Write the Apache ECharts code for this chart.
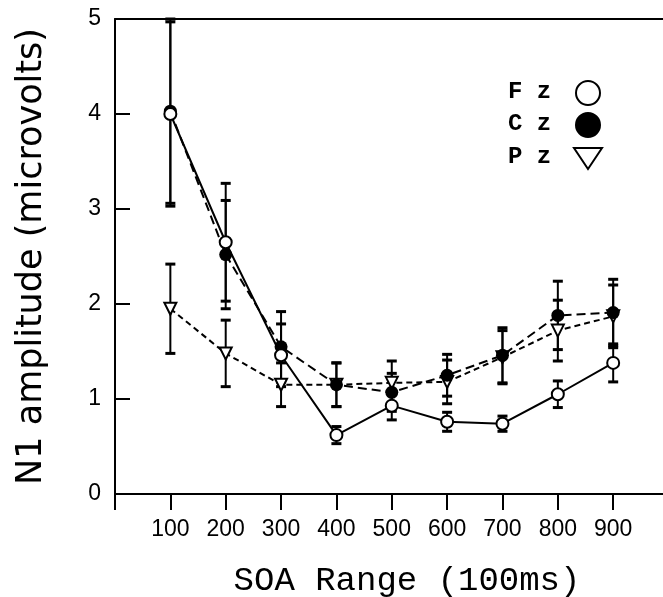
<!DOCTYPE html>
<html>
<head>
<meta charset="utf-8">
<script src="https://cdn.jsdelivr.net/npm/echarts@6/dist/echarts.min.js"></script>
<style>
  html, body { margin: 0; padding: 0; background: #fff; }
  #chart { width: 663px; height: 597px; }
</style>
</head>
<body>
<div id="chart"></div>
<script>
// SOA range (ms) and N1 amplitudes per electrode
const soa = [100, 200, 300, 400, 500, 600, 700, 800, 900];
const xTicks = [0, 100, 200, 300, 400, 500, 600, 700, 800, 900];
const yTicks = [0, 1, 2, 3, 4, 5];

const fz = [4.00, 2.65, 1.46, 0.62, 0.93, 0.76, 0.74, 1.05, 1.38];
const fzErr = [0.97, 0.62, 0.33, 0.09, 0.15, 0.10, 0.08, 0.14, 0.20];
const cz = [4.03, 2.52, 1.55, 1.15, 1.07, 1.25, 1.46, 1.88, 1.91];
const czErr = [0.97, 0.57, 0.37, 0.23, 0.20, 0.22, 0.29, 0.36, 0.35];
const pz = [1.95, 1.48, 1.15, 1.15, 1.17, 1.18, 1.44, 1.72, 1.87];
const pzErr = [0.47, 0.35, 0.23, 0.23, 0.23, 0.23, 0.28, 0.32, 0.33];

const chart = echarts.init(document.getElementById("chart"));

const pairs = (ys) => soa.map((x, i) => [x, ys[i]]);
const errData = (ys, es) => soa.map((x, i) => [x, ys[i] - es[i], ys[i] + es[i]]);

// error bar: vertical stem with short caps
const renderErr = (params, api) => {
  const lo = api.coord([api.value(0), api.value(1)]);
  const hi = api.coord([api.value(0), api.value(2)]);
  const w = 5;
  const st = { stroke: "#000", lineWidth: 2 };
  return {
    type: "group",
    children: [
      { type: "line", shape: { x1: lo[0], y1: lo[1], x2: hi[0], y2: hi[1] }, style: st },
      { type: "line", shape: { x1: lo[0] - w, y1: lo[1], x2: lo[0] + w, y2: lo[1] }, style: { stroke: "#000", lineWidth: 3 } },
      { type: "line", shape: { x1: hi[0] - w, y1: hi[1], x2: hi[0] + w, y2: hi[1] }, style: { stroke: "#000", lineWidth: 3 } }
    ]
  };
};

const errSeries = (name, ys, es) => ({
  name: name + " err",
  type: "custom",
  renderItem: renderErr,
  data: errData(ys, es),
  z: 1,
  silent: true
});

const tickFont = { fontFamily: "Liberation Sans", fontSize: 23, color: "#000" };

const option = {
  backgroundColor: "#fff",
  animation: false,
  grid: { left: 115, right: 0, top: 19, bottom: 103, containLabel: false, outerBoundsMode: "none" },
  xAxis: [
    {
      type: "value",
      min: 0,
      max: 990,
      interval: 100,
      name: "SOA Range (100ms)",
      nameLocation: "middle",
      nameGap: 70,
      nameTextStyle: {
        fontFamily: "Liberation Mono",
        fontSize: 34,
        color: "#000",
        padding: [0, 0, 0, 36]
      },
      axisLine: { lineStyle: { color: "#000", width: 2 } },
      axisTick: { show: true, inside: false, length: 16, customValues: xTicks, lineStyle: { color: "#000", width: 2 } },
      axisLabel: {
        customValues: soa,
        margin: 24,
        ...tickFont
      },
      splitLine: { show: false }
    },
    {
      type: "value",
      position: "top",
      min: 0,
      max: 990,
      axisLine: { show: true, lineStyle: { color: "#000", width: 2 } },
      axisTick: { show: false },
      axisLabel: { show: false },
      splitLine: { show: false }
    }
  ],
  yAxis: {
    type: "value",
    min: 0,
    max: 5,
    interval: 1,
    name: "N1 amplitude (microvolts)",
    nameLocation: "middle",
    nameGap: 66,
    nameTextStyle: { fontFamily: "DejaVu Sans", fontSize: 35, color: "#000" },
    axisLine: { show: true, lineStyle: { color: "#000", width: 2 } },
    axisTick: { show: true, inside: true, length: 15, customValues: yTicks, lineStyle: { color: "#000", width: 2 } },
    axisLabel: { margin: 14, ...tickFont },
    splitLine: { show: false }
  },
  series: [
    errSeries("Pz", pz, pzErr),
    errSeries("Cz", cz, czErr),
    errSeries("Fz", fz, fzErr),
    {
      name: "Pz",
      type: "line",
      data: pairs(pz),
      symbol: "emptyTriangle",
      symbolRotate: 180,
      symbolSize: 12,
      itemStyle: { color: "#000", borderWidth: 2 },
      lineStyle: { color: "#000", width: 2, type: [6, 4] },
      z: 3
    },
    {
      name: "Cz",
      type: "line",
      data: pairs(cz),
      symbol: "circle",
      symbolSize: 13,
      itemStyle: { color: "#000" },
      lineStyle: { color: "#000", width: 2, type: [9, 5] },
      z: 4
    },
    {
      name: "Fz",
      type: "line",
      data: pairs(fz),
      symbol: "emptyCircle",
      symbolSize: 12,
      itemStyle: { color: "#000", borderWidth: 2 },
      lineStyle: { color: "#000", width: 2 },
      z: 5
    }
  ],
  // key in the upper right, text left of the symbol as in the figure
  graphic: [
    { type: "text", left: 508, top: 80, style: { text: "F z", font: "bold 24px 'Liberation Mono'", fill: "#000" } },
    { type: "text", left: 508, top: 112, style: { text: "C z", font: "bold 24px 'Liberation Mono'", fill: "#000" } },
    { type: "text", left: 508, top: 145, style: { text: "P z", font: "bold 24px 'Liberation Mono'", fill: "#000" } },
    { type: "circle", shape: { cx: 588, cy: 93, r: 12 }, style: { fill: "#fff", stroke: "#000", lineWidth: 2 } },
    { type: "circle", shape: { cx: 588, cy: 125, r: 12 }, style: { fill: "#000", stroke: "#000", lineWidth: 2 } },
    { type: "polygon", shape: { points: [[574, 148], [602, 148], [588, 169]] }, style: { fill: "#fff", stroke: "#000", lineWidth: 2 } }
  ]
};

chart.setOption(option);
</script>
</body>
</html>
